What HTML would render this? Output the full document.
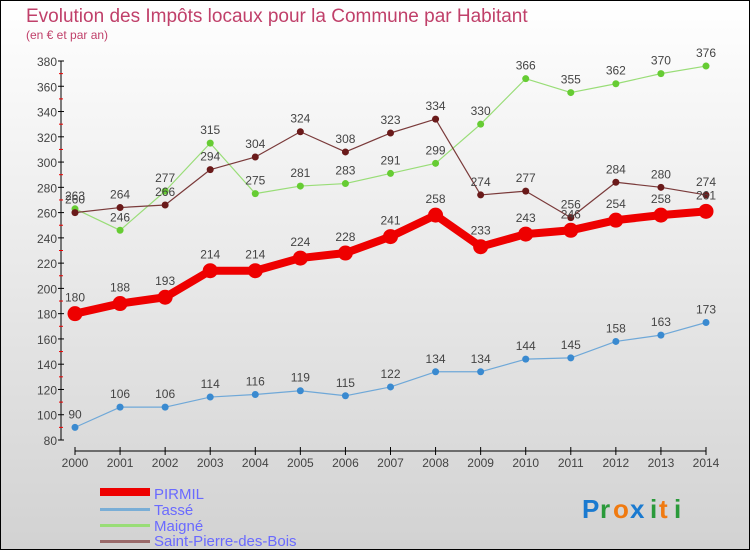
<!DOCTYPE html>
<html><head><meta charset="utf-8"><style>
body{margin:0;}
#c{width:750px;height:550px;position:relative;overflow:hidden;}
svg text{font-family:"Liberation Sans",sans-serif;}
</style></head><body>
<div id="c">
<svg id="s" width="750" height="550" xmlns="http://www.w3.org/2000/svg">
<defs><linearGradient id="bg" x1="0" y1="0" x2="0" y2="1"><stop offset="0" stop-color="#ffffff"/><stop offset="1" stop-color="#d2d2d2"/></linearGradient></defs>
<rect x="0.5" y="0.5" width="749" height="549" fill="url(#bg)" stroke="#000"/>
<text x="26" y="22" font-size="19" fill="#c0406a">Evolution des Impôts locaux pour la Commune par Habitant</text>
<text x="26" y="39" font-size="12" fill="#c0406a">(en € et par an)</text>
<g id="axes"></g><g id="series"></g>
<g>
<rect x="100" y="488" width="50" height="8" fill="#e00"/>
<text x="154" y="499" font-size="15" fill="#6a6aff">PIRMIL</text>
<rect x="100" y="508" width="50" height="3" fill="#7aaed6"/>
<text x="154" y="515" font-size="15" fill="#6a6aff">Tassé</text>
<rect x="100" y="524" width="50" height="3" fill="#99dd77"/>
<text x="154" y="531" font-size="15" fill="#6a6aff">Maigné</text>
<rect x="100" y="540" width="50" height="3" fill="#9a6a6a"/>
<text x="154" y="546" font-size="15" fill="#6a6aff">Saint-Pierre-des-Bois</text>
</g>
<g font-size="26" font-weight="bold">
<text x="582" y="518" fill="#1a7ad0">P</text><text x="600" y="518" fill="#2a9a3a">r</text><text x="613" y="518" fill="#f07a10">o</text><text x="630" y="518" fill="#1a7ad0">x</text><text x="650" y="518" fill="#2a9a3a">i</text><text x="659" y="518" fill="#f07a10">t</text><text x="674" y="518" fill="#2a9a3a">i</text>
</g>
</svg></div>
<script>
const years=[2000,2001,2002,2003,2004,2005,2006,2007,2008,2009,2010,2011,2012,2013,2014];
const yTicks=[80,100,120,140,160,180,200,220,240,260,280,300,320,340,360,380];
const pirmil=[180,188,193,214,214,224,228,241,258,233,243,246,254,258,261];
const tasse=[90,106,106,114,116,119,115,122,134,134,144,145,158,163,173];
const maigne=[263,246,277,315,275,281,283,291,299,330,366,355,362,370,376];
const stpierre=[260,264,266,294,304,324,308,323,334,274,277,256,284,280,274];
const NS="http://www.w3.org/2000/svg";
function X(i){return 75+i*(706-75)/(years.length-1);}
function Y(v){return 440-(v-80)*(440-61)/300;}
function mk(t,a,p){const e=document.createElementNS(NS,t);for(const k in a)e.setAttribute(k,a[k]);p.appendChild(e);return e;}
const ax=document.getElementById('axes');
const yl=mk('line',{x1:61,y1:61,x2:61,y2:440,stroke:'#000'},ax);


const xl=mk('line',{x1:75,y1:451,x2:706,y2:451,stroke:'#000'},ax);


yTicks.forEach(v=>{
 mk('line',{x1:58,y1:Y(v),x2:64,y2:Y(v),stroke:'#000'},ax);
 if(v<380)mk('line',{x1:59,y1:Y(v+10),x2:63,y2:Y(v+10),stroke:'#e00'},ax);
 const t=mk('text',{x:57,y:Y(v)+5,'font-size':12,fill:'#444','text-anchor':'end'},ax);t.textContent=v;
 
 
});
years.forEach((y,i)=>{
 mk('line',{x1:X(i),y1:447,x2:X(i),y2:455,stroke:'#000'},ax);
 const t=mk('text',{x:X(i),y:467,'font-size':12,fill:'#444','text-anchor':'middle'},ax);t.textContent=y;
 
 
});
const sg=document.getElementById('series');
function draw(vals,col,dot,w,r,name){
 const g=mk('g',{},sg);
 
 
 mk('polyline',{points:vals.map((v,i)=>X(i)+','+Y(v)).join(' '),fill:'none',stroke:col,'stroke-width':w,'stroke-linejoin':'round'},g);
 vals.forEach((v,i)=>{
  const c=mk('circle',{cx:X(i),cy:Y(v),r:r,fill:dot},g);
  
  
  const t=mk('text',{x:X(i),y:Y(v)-9-(r>5?3:0),'font-size':12,fill:'#444','text-anchor':'middle'},g);t.textContent=v;
  
  
 });
}
draw(tasse,'#6fa8d8','#3a8ad0',1.2,3.5,'tasse-series');
draw(maigne,'#99dd77','#66cc33',1.2,3.5,'maigne-series');
draw(stpierre,'#7a3a3a','#6a1a1a',1.2,3.5,'saint-pierre-series');
draw(pirmil,'#ee0000','#ee0000',8,7.5,'pirmil-series');
</script>
</body></html>
